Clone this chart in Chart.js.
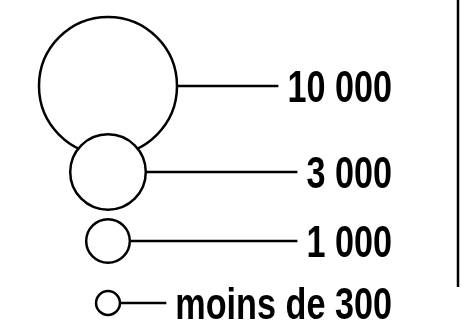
<!DOCTYPE html>
<html>
<head>
<meta charset="utf-8">
<script src="https://cdn.jsdelivr.net/npm/chart.js@4.4.1/dist/chart.umd.min.js"></script>
<style>
  html, body { margin: 0; padding: 0; background: #fff; }
  #wrap { width: 461px; height: 322px; }
</style>
</head>
<body>
<div id="wrap"><canvas id="legendChart" width="461" height="322"></canvas></div>
<script>
// Proportional circle legend values
const values = [10000, 3000, 1000, 300];
const labels = ['10 000', '3 000', '1 000', 'moins de 300'];

// layout (pixels): row positions, circle column, text column
const rowY = [86, 172, 241, 303];
const centerX = 108;
const radiusPerRoot = 0.69;   // radius = k * sqrt(value)
const textRight = 392;
const textSquash = 0.76;

const points = values.map(function(v, i) {
    return { x: centerX, y: rowY[i], r: radiusPerRoot * Math.sqrt(v) };
});

// leader lines + labels, drawn after the circles
const leaderPlugin = {
    id: 'leaders',
    afterDatasetsDraw: function(chart) {
        const ctx = chart.ctx;
        const meta = chart.getDatasetMeta(0);
        ctx.save();
        ctx.font = 'bold 45px "Liberation Sans", Arial, sans-serif';
        ctx.fillStyle = '#000';
        ctx.strokeStyle = '#000';
        meta.data.forEach(function(el, i) {
            const r = el.options.radius;
            const w = ctx.measureText(labels[i]).width * textSquash;
            const lineEnd = textRight - w - 9;
            ctx.lineWidth = 2.5;
            ctx.beginPath();
            ctx.moveTo(el.x + r, el.y);
            ctx.lineTo(lineEnd, el.y);
            ctx.stroke();

            ctx.save();
            ctx.translate(textRight, el.y + 16);
            ctx.scale(textSquash, 1);
            ctx.textAlign = 'right';
            ctx.textBaseline = 'alphabetic';
            ctx.fillText(labels[i], 0, 0);
            ctx.restore();
        });
        // frame edge on the right
        ctx.lineWidth = 2.5;
        ctx.beginPath();
        ctx.moveTo(458, 0);
        ctx.lineTo(458, 287);
        ctx.stroke();
        ctx.restore();
    }
};

const ctx = document.getElementById('legendChart').getContext('2d');
new Chart(ctx, {
    type: 'bubble',
    data: {
        labels: labels,
        datasets: [{
            data: points,
            backgroundColor: '#fff',
            borderColor: '#000',
            borderWidth: 2.5,
            hoverBorderWidth: 2.5,
            clip: false
        }]
    },
    options: {
        responsive: false,
        animation: false,
        layout: { padding: 0, autoPadding: false },
        scales: {
            x: { type: 'linear', min: 0, max: 461, display: false },
            y: { type: 'linear', min: 0, max: 322, reverse: true, display: false }
        },
        plugins: {
            legend: { display: false },
            tooltip: { enabled: false }
        }
    },
    plugins: [leaderPlugin]
});
</script>
</body>
</html>
